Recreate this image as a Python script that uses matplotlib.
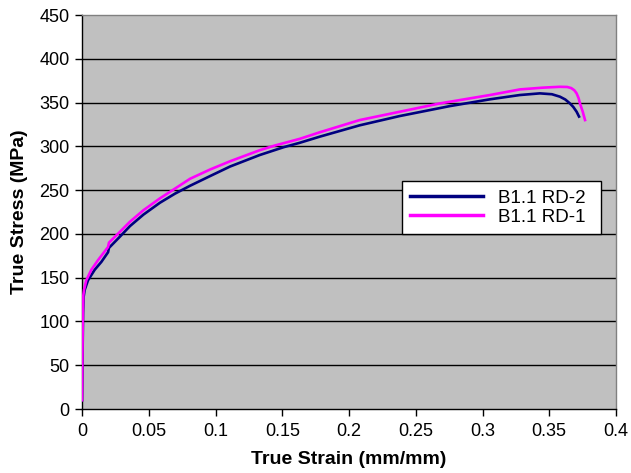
import matplotlib
matplotlib.use("Agg")
import matplotlib.pyplot as plt

plt.rcParams['font.family'] = ['Liberation Sans', 'DejaVu Sans']

# RD-2 (navy)
strain_rd2 = [0.0, 0.0004, 0.0008, 0.0012, 0.002, 0.0045, 0.0095, 0.0145, 0.0195, 0.0202,
              0.0285, 0.036, 0.046, 0.0584, 0.0697, 0.081, 0.0959, 0.111, 0.133, 0.151,
              0.163, 0.178, 0.208, 0.238, 0.2757, 0.3056, 0.328, 0.343, 0.352, 0.358,
              0.362, 0.3655, 0.368, 0.3705, 0.3723]
stress_rd2 = [10, 60, 110, 128, 136, 147, 159, 168, 179, 184,
              197, 209, 222, 235.6, 246, 255, 266, 277, 290, 299,
              304, 311, 324, 334.6, 346, 353.7, 358.6, 360.5, 359.5, 356.7,
              353.5, 349, 345, 339.5, 334]

# RD-1 (magenta)
strain_rd1 = [0.0, 0.0003, 0.0007, 0.001, 0.0015, 0.0032, 0.007, 0.012, 0.017, 0.0195,
              0.0202, 0.0285, 0.036, 0.046, 0.0584, 0.0659, 0.081, 0.0959, 0.111, 0.133,
              0.1446, 0.163, 0.178, 0.208, 0.238, 0.268, 0.3056, 0.328, 0.345, 0.358,
              0.3635, 0.3665, 0.3688, 0.3705, 0.372, 0.373, 0.375, 0.3768]
stress_rd1 = [10, 60, 115, 130, 136, 147, 159, 170, 180, 185,
              190, 202.5, 214, 227, 240.6, 248, 263, 273.5, 283, 295.5,
              301, 308.5, 316, 330, 339.5, 349, 358.6, 365, 367, 368,
              367.8, 366.5, 364, 360.5, 355, 349, 340, 330]

xticks = [0, 0.05, 0.1, 0.15, 0.2, 0.25, 0.3, 0.35, 0.4]
xticklabels = ["0", "0.05", "0.1", "0.15", "0.2", "0.25", "0.3", "0.35", "0.4"]
yticks = [0, 50, 100, 150, 200, 250, 300, 350, 400, 450]

fig = plt.figure(figsize=(6.31, 4.73), dpi=100)
ax = fig.add_axes([82/631, 1-409/473, 534/631, 394/473])
ax.set_facecolor('#C0C0C0')

for y in yticks[1:-1]:
    ax.axhline(y, color='#000000', lw=1.0, zorder=1)

ax.plot(strain_rd2, stress_rd2, color='#000080', lw=1.9, label='B1.1 RD-2', zorder=3,
        solid_joinstyle='round')
ax.plot(strain_rd1, stress_rd1, color='#FF00FF', lw=1.9, label='B1.1 RD-1', zorder=3,
        solid_joinstyle='round')

ax.set_xlim(0, 0.4)
ax.set_ylim(0, 450)
ax.set_xticks(xticks)
ax.set_xticklabels(xticklabels)
ax.set_yticks(yticks)
ax.tick_params(direction='out', length=5, width=1, labelsize=13, colors='black')
ax.tick_params(axis='x', pad=5)
ax.tick_params(axis='y', pad=4)

for s in ['left', 'bottom']:
    ax.spines[s].set_color('black')
    ax.spines[s].set_linewidth(1)
for s in ['top', 'right']:
    ax.spines[s].set_color('#808080')
    ax.spines[s].set_linewidth(1)

ax.set_xlabel('True Strain (mm/mm)', fontsize=14, fontweight='bold', labelpad=8)
ax.set_ylabel('True Stress (MPa)', fontsize=14, fontweight='bold', labelpad=8)

leg = ax.legend(loc='lower left', bbox_to_anchor=(0.599, 0.444, 0.373, 0.158), mode='expand',
                fontsize=13.5, frameon=True, fancybox=False, edgecolor='black',
                facecolor='white', framealpha=1,
                handlelength=3.9, handletextpad=0.8, borderpad=0.45, labelspacing=0.1,
                borderaxespad=0)
leg.get_frame().set_linewidth(1)
for line in leg.get_lines():
    line.set_linewidth(2.5)

fig.savefig('out.png', dpi=100)
